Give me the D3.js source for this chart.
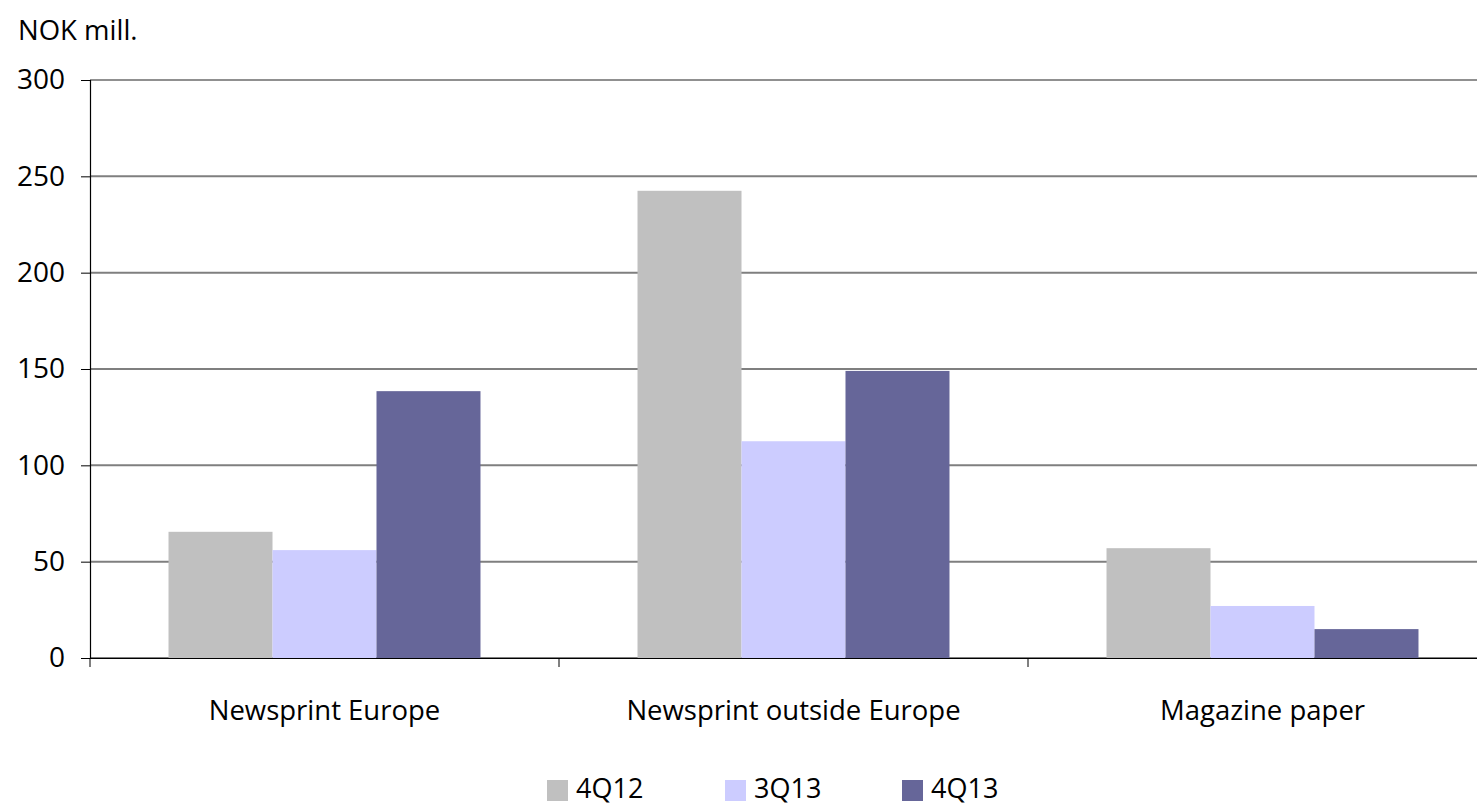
<!DOCTYPE html>
<html>
<head>
<meta charset="utf-8">
<script src="https://cdn.jsdelivr.net/npm/d3@7"></script>
<style>
  html, body { margin: 0; padding: 0; background: #fff; }
  svg { display: block; font-family: "Open Sans", "Liberation Sans", sans-serif; }
</style>
</head>
<body>
<svg id="chart" width="1477" height="805"></svg>
<script>
// Categories, series and values (NOK mill.)
const categories = ["Newsprint Europe", "Newsprint outside Europe", "Magazine paper"];
const seriesNames = ["4Q12", "3Q13", "4Q13"];
const values4Q12 = [65.5, 242.5, 57];
const values3Q13 = [56, 112.5, 27];
const values4Q13 = [138.5, 149, 15];
const yTicks = [0, 50, 100, 150, 200, 250, 300];
const seriesColors = ["#c0c0c0", "#ccccff", "#666699"];

const seriesValues = [values4Q12, values3Q13, values4Q13];

const svg = d3.select("#chart");
const plot = { left: 90, top: 80, right: 1497, bottom: 658 };

const x = d3.scaleBand()
  .domain(categories)
  .range([plot.left, plot.right])
  .paddingInner(0)
  .paddingOuter(0);

// bars fill the middle two thirds of each category slot
const xInner = d3.scaleBand()
  .domain(seriesNames)
  .range([0, x.bandwidth()])
  .paddingInner(0)
  .paddingOuter(0.755);

const y = d3.scaleLinear().domain([0, 300]).range([plot.bottom, plot.top]);

// Horizontal gridlines (top border drawn darker)
svg.append("g")
  .selectAll("line")
  .data(yTicks)
  .join("line")
  .attr("x1", plot.left)
  .attr("x2", plot.right)
  .attr("y1", d => y(d))
  .attr("y2", d => y(d))
  .attr("stroke", d => d === 300 ? "#222" : "#7f7f7f")
  .attr("stroke-width", d => d === 300 ? 1.2 : 2);

// Bars
const groups = svg.append("g")
  .selectAll("g")
  .data(categories)
  .join("g")
  .attr("transform", c => `translate(${x(c)},0)`);

groups.selectAll("rect")
  .data((c, ci) => seriesNames.map((s, si) => ({ s, si, v: seriesValues[si][ci] })))
  .join("rect")
  .attr("x", d => xInner(d.s))
  .attr("width", xInner.bandwidth())
  .attr("y", d => y(d.v))
  .attr("height", d => y(0) - y(d.v))
  .attr("fill", d => seriesColors[d.si]);

// Y axis
const yAxis = d3.axisLeft(y).tickValues(yTicks).tickSize(9).tickPadding(16).tickFormat(d3.format("d"));
const yg = svg.append("g")
  .attr("transform", `translate(${plot.left},0)`)
  .call(yAxis);
yg.select(".domain").attr("stroke", "#000").attr("stroke-width", 1.2);
yg.selectAll(".tick line").attr("stroke", "#000").attr("stroke-width", 1);
yg.selectAll(".tick text")
  .attr("fill", "#000")
  .style("font-size", "28px")
  .style("font-family", "'Open Sans', sans-serif");

// X axis
const xAxis = d3.axisBottom(x).tickSize(0).tickPadding(0).tickFormat("");
const xg = svg.append("g")
  .attr("transform", `translate(0,${plot.bottom})`)
  .call(xAxis);
xg.select(".domain").attr("stroke", "#000").attr("stroke-width", 1.2);

// Category separator ticks
xg.append("g")
  .selectAll("line")
  .data(categories.concat(["__end"]))
  .join("line")
  .attr("x1", (c, i) => i < categories.length ? x(c) : plot.right)
  .attr("x2", (c, i) => i < categories.length ? x(c) : plot.right)
  .attr("y1", 0)
  .attr("y2", 9)
  .attr("stroke", "#000")
  .attr("stroke-width", 1);

// Category labels
svg.append("g")
  .selectAll("text")
  .data(categories)
  .join("text")
  .attr("x", c => x(c) + x.bandwidth() / 2)
  .attr("y", 720)
  .attr("text-anchor", "middle")
  .attr("font-size", 27.5)
  .attr("fill", "#000")
  .text(c => c);

// Unit label
svg.append("text")
  .attr("x", 18)
  .attr("y", 40)
  .attr("font-size", 27.5)
  .attr("fill", "#000")
  .text("NOK mill.");

// Legend
const legendX = [547, 725, 902];
const legend = svg.append("g")
  .selectAll("g")
  .data(seriesNames)
  .join("g")
  .attr("transform", (d, i) => `translate(${legendX[i]},780)`);
legend.append("rect")
  .attr("width", 21)
  .attr("height", 21)
  .attr("fill", (d, i) => seriesColors[i]);
legend.append("text")
  .attr("x", 29)
  .attr("y", 18)
  .attr("font-size", 27)
  .attr("fill", "#000")
  .text(d => d);
</script>
</body>
</html>
